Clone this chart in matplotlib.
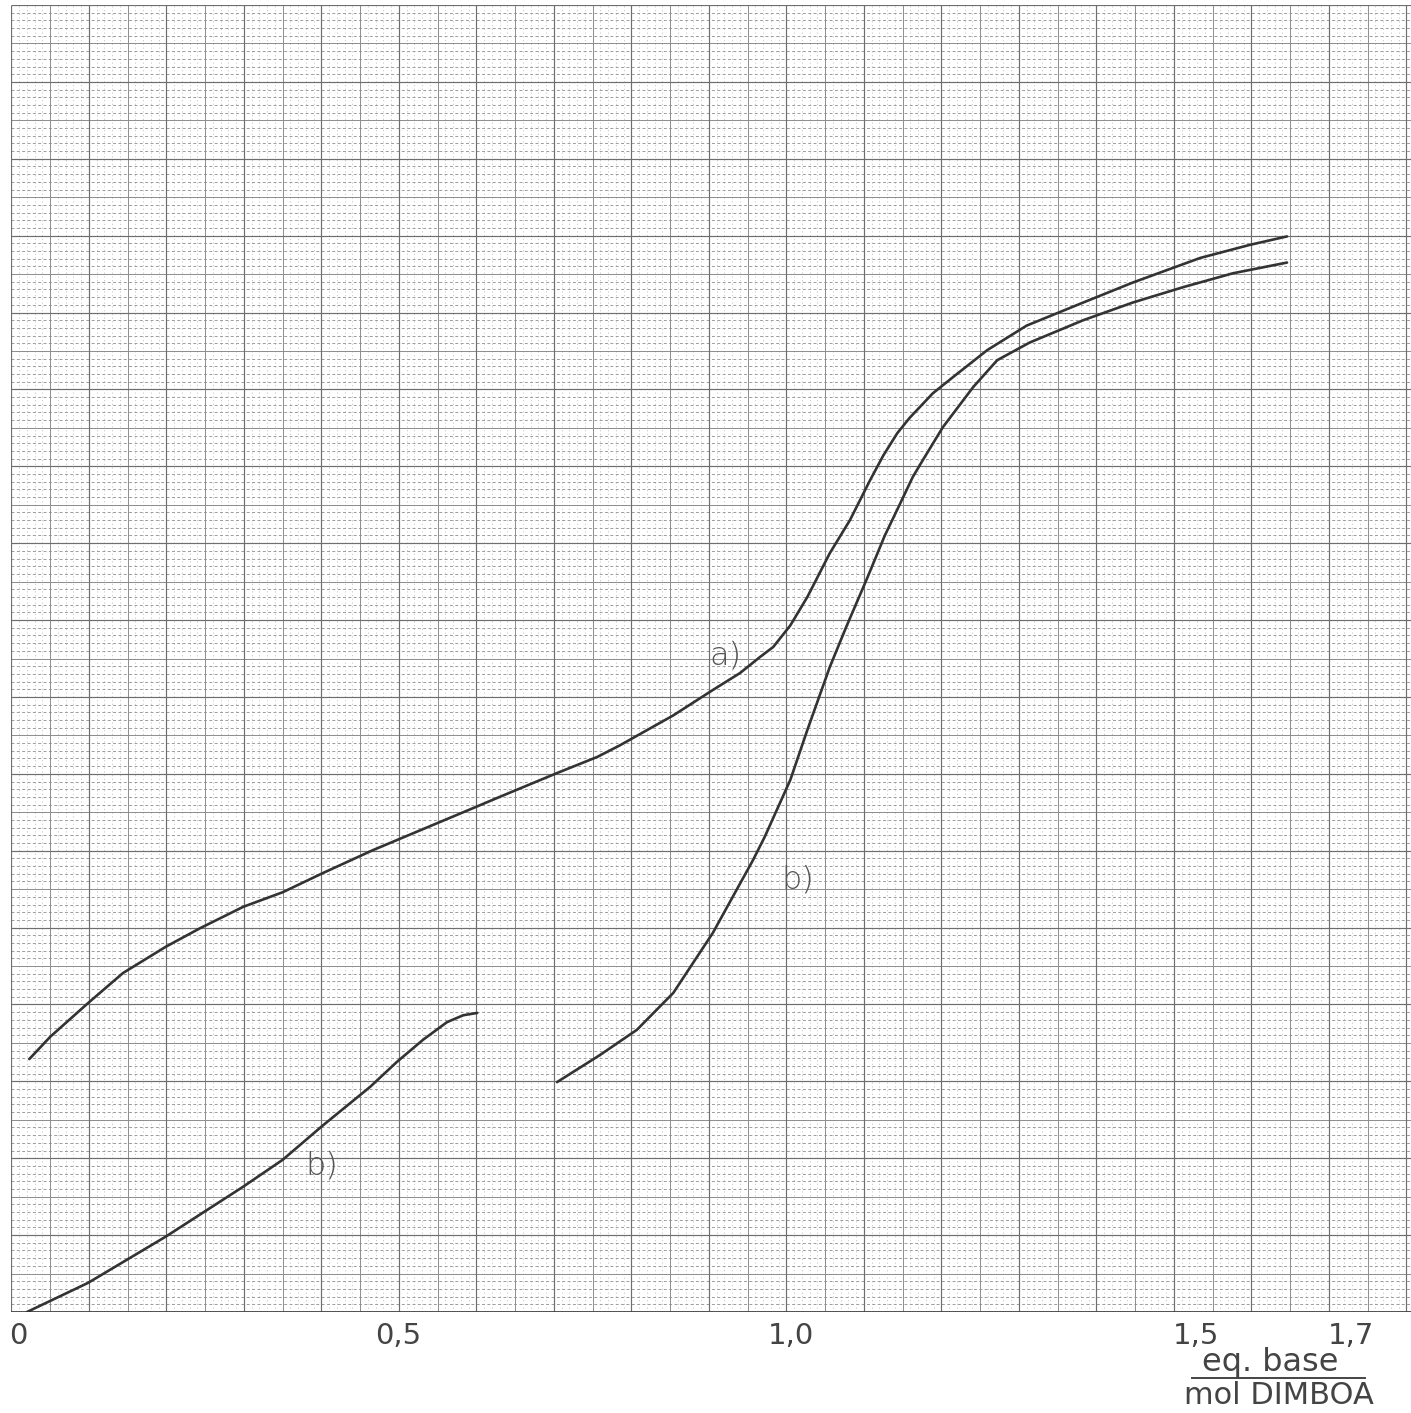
import numpy as np
import matplotlib
import matplotlib.pyplot as plt

matplotlib.use("Agg")

# curve a) : eq. base / mol DIMBOA vs reading (grid cm)
a_x = [0.023, 0.050, 0.099, 0.144, 0.199, 0.243, 0.299, 0.350, 0.402, 0.467, 0.590,
       0.630, 0.704, 0.756, 0.785, 0.854, 0.905, 0.940, 0.966, 0.983, 1.005, 1.027,
       1.056, 1.082, 1.108, 1.125, 1.143, 1.159, 1.189, 1.215, 1.259, 1.310, 1.383,
       1.447, 1.534, 1.598, 1.646]
a_y = [3.29, 3.58, 4.02, 4.41, 4.75, 4.99, 5.27, 5.46, 5.71, 6.01, 6.53,
       6.70, 7.01, 7.22, 7.37, 7.76, 8.09, 8.31, 8.52, 8.65, 8.93, 9.30,
       9.87, 10.30, 10.82, 11.14, 11.43, 11.63, 11.95, 12.16, 12.51, 12.83, 13.13,
       13.39, 13.71, 13.88, 13.99]

# curve b), first part (low ratio)
b1_x = [0.020, 0.099, 0.199, 0.299, 0.350, 0.401, 0.463, 0.497, 0.531, 0.562, 0.583, 0.601]
b1_y = [0.00, 0.38, 0.98, 1.63, 1.98, 2.42, 2.93, 3.25, 3.54, 3.77, 3.86, 3.89]

# curve b), second part
b2_x = [0.704, 0.759, 0.807, 0.854, 0.905, 0.957, 0.972, 1.005, 1.027, 1.056, 1.078,
        1.104, 1.127, 1.147, 1.163, 1.176, 1.202, 1.241, 1.272, 1.314, 1.383, 1.447,
        1.512, 1.576, 1.646]
b2_y = [2.99, 3.34, 3.67, 4.15, 4.93, 5.88, 6.18, 6.92, 7.57, 8.39, 8.93,
        9.54, 10.10, 10.52, 10.86, 11.08, 11.51, 12.03, 12.38, 12.61, 12.90, 13.13,
        13.33, 13.51, 13.65]

tick_values = [0.0, 0.5, 1.0, 1.5, 1.7]
tick_labels = ["0", "0,5", "1,0", "1,5", "1,7"]

curve_labels = ["a)", "b)", "b)"]
curve_label_x = [0.921, 1.014, 0.401]
curve_label_y = [8.54, 5.62, 1.91]

X_MAX = 1.806
Y_MAX = 17.0

fig = plt.figure(figsize=(14.11, 14.13), dpi=100)
fig.patch.set_facecolor("white")
ax = fig.add_axes([11.5 / 1411, 101 / 1413, 1399.5 / 1411, 1307 / 1413])
ax.set_xlim(0, X_MAX)
ax.set_ylim(0, Y_MAX)
ax.set_axis_off()

# millimetre paper
fine_x = np.arange(0, X_MAX, 0.01)
fine_y = np.arange(0, Y_MAX, 0.1)
ax.vlines(fine_x, 0, Y_MAX, colors="#c4c4c4", linewidth=0.6, linestyles=(0, (1.5, 3)), zorder=1)
ax.hlines(fine_y, 0, X_MAX, colors="#9c9c9c", linewidth=0.7, linestyles=(0, (3, 2.5)), zorder=1)

half_x = np.arange(0.05, X_MAX, 0.1)
half_y = np.arange(0.5, Y_MAX, 1.0)
ax.vlines(half_x, 0, Y_MAX, colors="#8e8e8e", linewidth=0.7, zorder=2)
ax.hlines(half_y, 0, X_MAX, colors="#8e8e8e", linewidth=0.7, zorder=2)

major_x = np.arange(0, X_MAX, 0.1)
major_y = np.arange(0, Y_MAX + 0.01, 1.0)
ax.vlines(major_x, 0, Y_MAX, colors="#6e6e6e", linewidth=0.85, zorder=2)
ax.hlines(major_y, 0, X_MAX, colors="#6e6e6e", linewidth=0.85, zorder=2)
ax.hlines([0], 0, X_MAX, colors="#444444", linewidth=1.3, zorder=3)

line_style = dict(color="#333333", linewidth=1.9, solid_capstyle="round",
                  solid_joinstyle="round", zorder=5)
ax.plot(a_x, a_y, **line_style)
ax.plot(b1_x, b1_y, **line_style)
ax.plot(b2_x, b2_y, **line_style)

for text, x, y in zip(curve_labels, curve_label_x, curve_label_y):
    ax.text(x, y, text, fontsize=23, color="#555555", ha="center", va="center",
            fontweight="light", zorder=6)

for value, label in zip(tick_values, tick_labels):
    ha = "center" if value < 1.4 else "left"
    shift = 0.009 if value == 0 else (0.006 if value == 1.0 else -0.001)
    ax.text(value + shift, -0.31, label, fontsize=21, color="#444444", ha=ha, va="center",
            clip_on=False)

# axis label as a fraction
ax.text(1.625, -0.66, "eq. base", fontsize=23, color="#444444", ha="center", va="center",
        clip_on=False)
ax.plot([1.524, 1.746], [-0.86, -0.86], color="#444444", linewidth=1.4, clip_on=False)
ax.text(1.635, -1.08, "mol DIMBOA", fontsize=22, color="#444444", ha="center", va="center",
        clip_on=False)

fig.savefig("out.png", dpi=100, facecolor="white")
